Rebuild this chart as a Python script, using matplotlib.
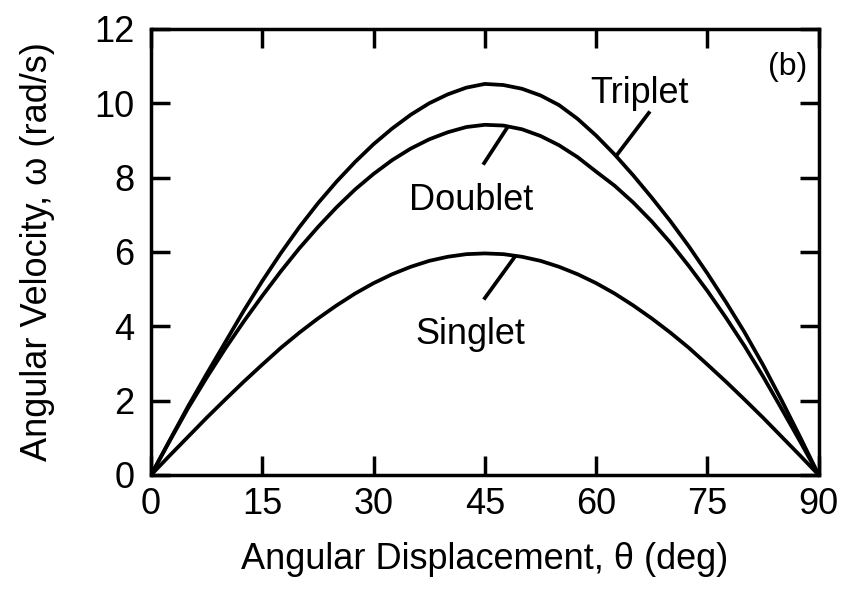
import matplotlib
matplotlib.use("Agg")
import matplotlib.pyplot as plt

plt.rcParams['font.family'] = ['Liberation Sans', 'DejaVu Sans']

# angular displacement (deg) and angular velocity (rad/s) for each mechanism
theta = [0, 2.5, 5, 7.5, 10, 12.5, 15, 17.5, 20, 22.5, 25, 27.5, 30, 32.5,
         35, 37.5, 40, 42.5, 45, 47.5, 50, 52.5, 55, 57.5, 60, 62.5, 65,
         67.5, 70, 72.5, 75, 77.5, 80, 82.5, 85, 87.5, 90]
triplet = [0, 0.93, 1.85, 2.72, 3.57, 4.42, 5.22, 5.97, 6.67, 7.31, 7.89,
           8.42, 8.90, 9.32, 9.69, 10.00, 10.24, 10.42, 10.52, 10.49, 10.39,
           10.21, 9.95, 9.58, 9.13, 8.62, 8.06, 7.46, 6.83, 6.15, 5.42,
           4.65, 3.84, 2.96, 2.01, 1.02, 0]
doublet = [0, 0.91, 1.80, 2.62, 3.40, 4.13, 4.82, 5.48, 6.10, 6.67, 7.20,
           7.68, 8.10, 8.47, 8.78, 9.03, 9.22, 9.36, 9.42, 9.40, 9.30,
           9.12, 8.87, 8.55, 8.16, 7.78, 7.33, 6.82, 6.25, 5.62, 4.95,
           4.23, 3.47, 2.65, 1.78, 0.90, 0]
singlet = [0, 0.52, 1.03, 1.54, 2.03, 2.51, 2.97, 3.42, 3.83, 4.21, 4.56,
           4.88, 5.16, 5.40, 5.60, 5.76, 5.87, 5.94, 5.96, 5.94, 5.87,
           5.76, 5.60, 5.40, 5.16, 4.88, 4.56, 4.21, 3.83, 3.42, 2.97,
           2.51, 2.03, 1.54, 1.03, 0.52, 0]

xticks = [0, 15, 30, 45, 60, 75, 90]
yticks = [0, 2, 4, 6, 8, 10, 12]

fig = plt.figure(figsize=(8.44, 5.90), dpi=100)
ax = fig.add_axes([0.179, 0.195, 0.791, 0.756])

lw = 2.7
for ys in (triplet, doublet, singlet):
    ax.plot(theta, ys, color='black', lw=lw, solid_joinstyle='round')

ax.set_xlim(0, 90)
ax.set_ylim(0, 12)
ax.set_xticks(xticks)
ax.set_yticks(yticks)
ax.tick_params(direction='in', length=14, width=2.5, labelsize=26,
               top=True, right=True)
ax.tick_params(axis='x', pad=9)
ax.tick_params(axis='y', pad=12)
for sp in ax.spines.values():
    sp.set_linewidth(2.5)

ax.set_xlabel('Angular Displacement, θ (deg)', fontsize=26, labelpad=14)
ax.set_ylabel('Angular Velocity, ω (rad/s)', fontsize=26, labelpad=28)

# curve labels with short leader lines
ax.text(65.8, 10.0, 'Triplet', fontsize=26, ha='center', va='baseline')
ax.plot([62.8, 67.1], [8.61, 9.74], color='black', lw=lw)
ax.text(43.2, 7.13, 'Doublet', fontsize=26, ha='center', va='baseline')
ax.plot([44.9, 48.0], [8.39, 9.34], color='black', lw=lw)
ax.text(43.1, 3.52, 'Singlet', fontsize=26, ha='center', va='baseline')
ax.plot([45.0, 49.0], [4.76, 5.86], color='black', lw=lw)
ax.text(85.8, 10.98, '(b)', fontsize=23, ha='center', va='center')

fig.savefig('out.png', dpi=100)
